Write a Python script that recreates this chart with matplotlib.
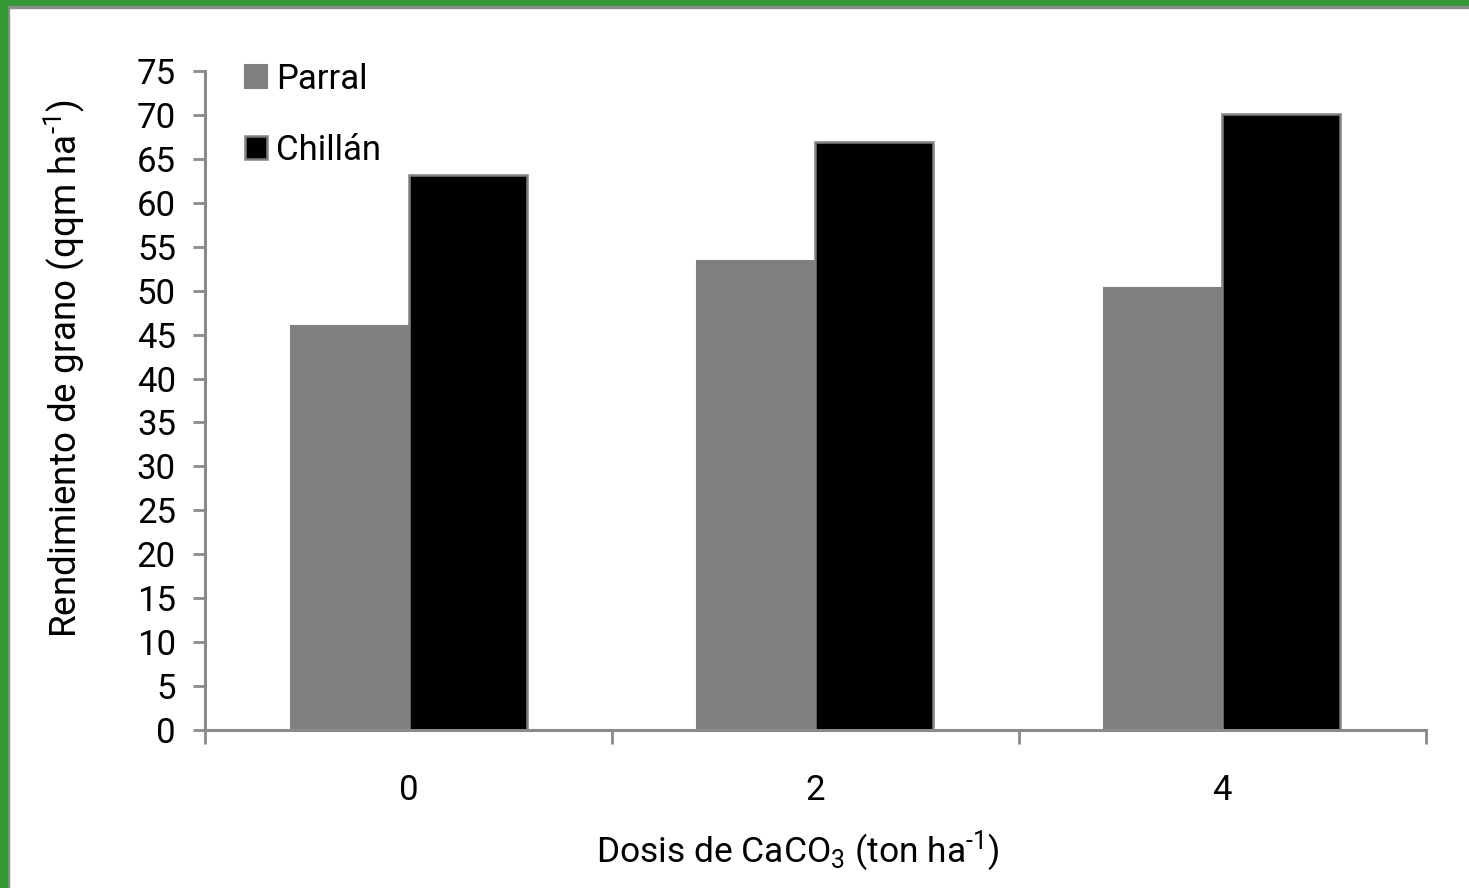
import numpy as np
import matplotlib
matplotlib.use('Agg')
from matplotlib import pyplot as plt
from matplotlib.patches import Rectangle

# datos
dosis = ['0', '2', '4']
parral = [46.0, 53.4, 50.3]
chillan = [63.2, 66.9, 70.1]
yticks = list(range(0, 80, 5))

plt.rcParams['font.family'] = ['Roboto', 'DejaVu Sans']
plt.rcParams['mathtext.fontset'] = 'custom'
plt.rcParams['mathtext.rm'] = 'Roboto'
plt.rcParams['mathtext.it'] = 'Roboto'

gris = '#808080'
eje = '#8a8a8a'
fs = 25

fig = plt.figure(figsize=(14.69, 8.88), dpi=100)
ax = fig.add_axes([0.1396, 0.178, 0.831, 0.742])

x = np.arange(len(dosis))
w = 0.29
ax.bar(x - w / 2, parral, w, color=gris, edgecolor=gris, linewidth=1.5, label='Parral')
ax.bar(x + w / 2, chillan, w, color='black', edgecolor=gris, linewidth=1.8, label='Chillán')

ax.set_xlim(-0.5, len(dosis) - 0.5)
ax.set_ylim(0, 75)
ax.set_yticks(yticks)
ax.set_yticklabels([str(v) for v in yticks], fontsize=fs)
ax.set_xticks(x)
ax.set_xticklabels(dosis, fontsize=fs)
ax.set_xticks(np.arange(len(dosis) + 1) - 0.5, minor=True)
ax.tick_params(axis='x', which='major', length=0, pad=32)
ax.tick_params(axis='x', which='minor', length=10, width=2, color=eje)
ax.tick_params(axis='y', length=9, width=2, color=eje, pad=12)

for s in ['top', 'right']:
    ax.spines[s].set_visible(False)
for s in ['left', 'bottom']:
    ax.spines[s].set_color(eje)
    ax.spines[s].set_linewidth(2.2)

ax.set_ylabel('Rendimiento de grano (qqm ha$^{\u2010 1}$)', fontsize=26.5)
ax.yaxis.set_label_coords(-0.097, 0.549)
ax.set_xlabel('Dosis de CaCO$_3$ (ton ha$^{\u2010 1}$)', fontsize=fs + 0.5)
ax.xaxis.set_label_coords(0.485, -0.15)

leg = ax.legend(loc='upper left', bbox_to_anchor=(0.007, 1.06), frameon=False,
                fontsize=fs, handlelength=0.65, handleheight=0.65,
                handletextpad=0.25, labelspacing=1.1)

# marco verde
fig.patches.append(Rectangle((0, 1 - 6 / 888), 1, 6 / 888, transform=fig.transFigure,
                             color='#339933', zorder=10))
fig.patches.append(Rectangle((0, 1 - 8 / 888), 1, 2 / 888, transform=fig.transFigure,
                             color='#8c8c8c', zorder=10))
fig.patches.append(Rectangle((0, 0), 7 / 1469, 1, transform=fig.transFigure,
                             color='#339933', zorder=11))
fig.patches.append(Rectangle((7 / 1469, 0), 2 / 1469, 1 - 6 / 888, transform=fig.transFigure,
                             color='#8c8c8c', zorder=10))

fig.savefig('out.png', dpi=100)
